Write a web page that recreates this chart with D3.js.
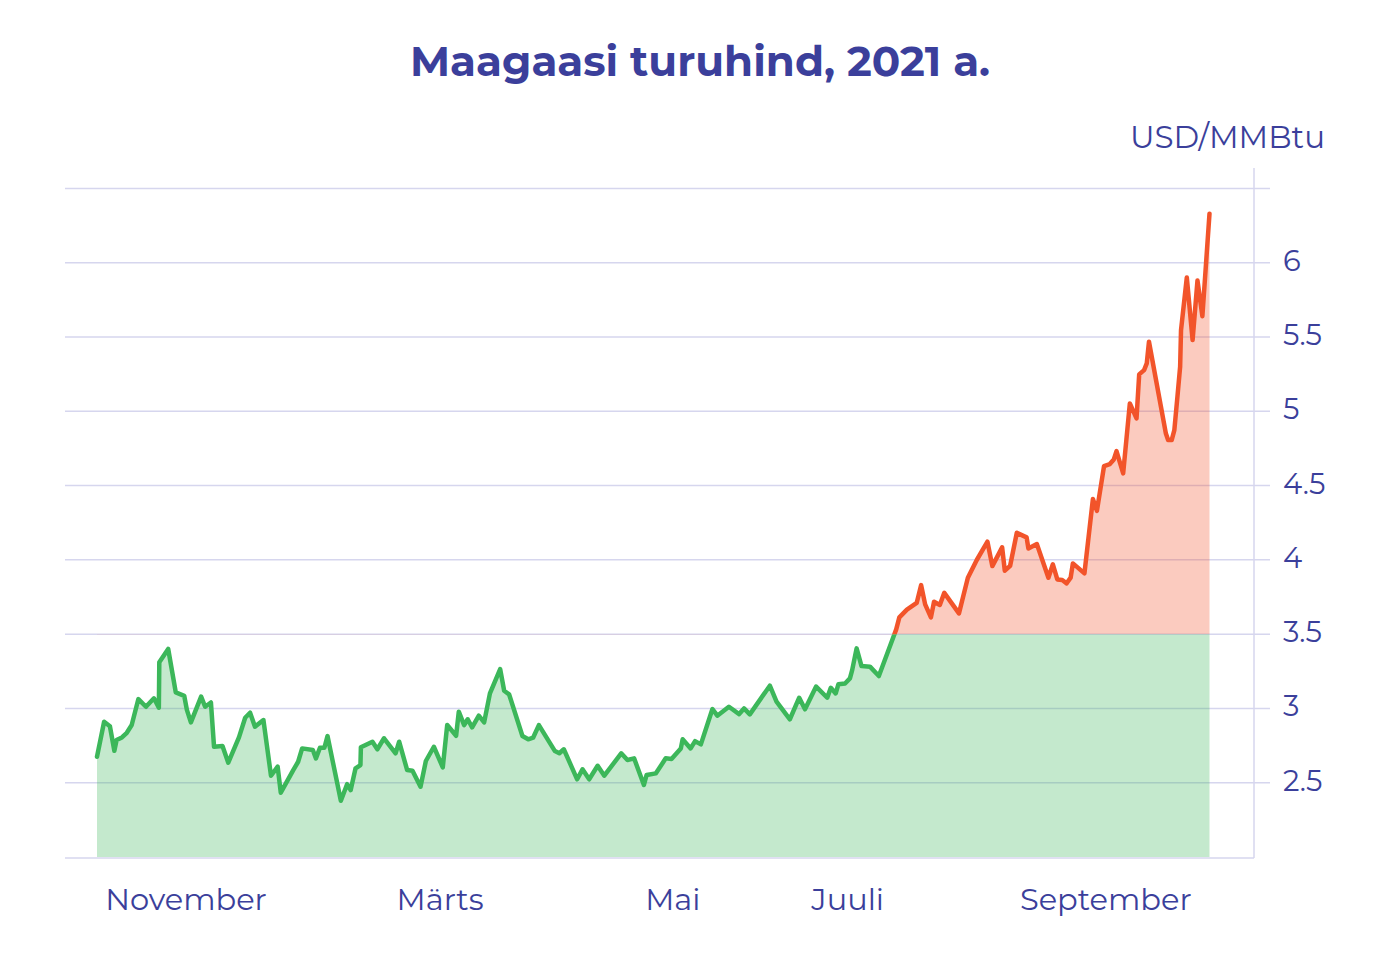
<!DOCTYPE html>
<html>
<head>
<meta charset="utf-8">
<script src="https://cdn.jsdelivr.net/npm/d3@7"></script>
<style>
  html, body { margin: 0; padding: 0; background: #fff; }
  svg { display: block; font-family: Montserrat, Inter, "Noto Sans", sans-serif; }
</style>
</head>
<body>
<div id="chart"></div>
<script>
// trading-day index (0 = start of series) and price, USD/MMBtu
const days = [
  0, 1.6, 2.9, 3.9, 4.4, 5.6, 6.7, 7.8, 9.3, 11, 12.8, 13.9, 14.0, 16, 17.7, 19.6, 20.2, 21.1, 23.4, 24.3,
  25.6, 26.3, 28.2, 29.5, 31.9, 33.3, 34.4, 35.5, 37.4, 39.1, 40.6, 41.3, 44.1, 45.2, 46.1, 48.5, 49.2, 50.1, 51.1, 51.8,
  54.8, 56.2, 57, 58.1, 59.2, 59.3, 61.9, 63, 64.5, 67.1, 67.9, 69.7, 70.9, 72.7, 73.9, 75.7, 77.7, 78.7, 80.7, 81.3,
  82.5, 83.3, 84.3, 85.8, 87, 88.3, 90.6, 91.5, 92.6, 95.6, 96.9, 98, 99.3, 102.9, 103.9, 104.9, 107.9, 109.1, 110.6, 112.5,
  114, 117.8, 119.2, 120.7, 122.9, 123.5, 125.6, 127.8, 129.1, 131.2, 131.6, 133.4, 134.4, 135.7, 138.3, 139.4, 142, 144.3, 145.4, 146.7,
  151.2, 152.7, 155.7, 157.8, 159.1, 161.6, 164.1, 164.9, 166, 166.6, 168.1, 169.2, 169.7, 170.7, 171.8, 173.7, 175.7, 179.6, 180.3, 182,
  184.2, 185.2, 186.1, 187.4, 188.1, 189.4, 190.4, 193.7, 195.7, 197.7, 200.1, 201.2, 203.4, 204, 205.2, 206.7, 208.9, 209.3, 211.2, 213.8,
  214.8, 215.8, 216.9, 217.9, 218.8, 219.3, 221.9, 223.8, 224.7, 226.3, 227.6, 228.5, 229.1, 230.6, 232.1, 233.6, 234.2, 235.3, 235.9, 236.4,
  240.2, 240.7, 241.5, 242.1, 242.8, 243.4, 243.6, 244.9, 246.2, 247.3, 248.4, 250
];
const prices = [
  2.675, 2.91, 2.88, 2.715, 2.787, 2.805, 2.836, 2.888, 3.063, 3.011, 3.068, 3.005, 3.31, 3.40, 3.108, 3.085, 2.99, 2.906, 3.079, 3.011,
  3.04, 2.742, 2.747, 2.635, 2.805, 2.937, 2.971, 2.877, 2.922, 2.547, 2.608, 2.433, 2.585, 2.641, 2.731, 2.72, 2.664, 2.735, 2.735, 2.814,
  2.379, 2.49, 2.45, 2.597, 2.619, 2.738, 2.776, 2.725, 2.799, 2.698, 2.776, 2.585, 2.58, 2.473, 2.646, 2.742, 2.603, 2.888, 2.816, 2.978,
  2.888, 2.927, 2.873, 2.951, 2.906, 3.101, 3.265, 3.119, 3.095, 2.814, 2.792, 2.803, 2.888, 2.713, 2.698, 2.725, 2.523, 2.59, 2.523, 2.614,
  2.547, 2.698, 2.653, 2.664, 2.485, 2.552, 2.563, 2.664, 2.66, 2.731, 2.792, 2.731, 2.78, 2.758, 2.996, 2.951, 3.011, 2.962, 3.0, 2.96,
  3.153, 3.045, 2.927, 3.072, 2.994, 3.147, 3.072, 3.139, 3.101, 3.162, 3.168, 3.202, 3.258, 3.404, 3.285, 3.281, 3.218, 3.532, 3.613, 3.665,
  3.71, 3.83, 3.70, 3.613, 3.718, 3.696, 3.778, 3.64, 3.88, 3.999, 4.122, 3.958, 4.084, 3.927, 3.96, 4.182, 4.151, 4.077, 4.106, 3.88,
  3.97, 3.868, 3.864, 3.842, 3.88, 3.976, 3.909, 4.41, 4.33, 4.631, 4.645, 4.676, 4.732, 4.582, 5.053, 4.952, 5.248, 5.277, 5.322, 5.468,
  4.85, 4.806, 4.806, 4.873, 5.1, 5.3, 5.546, 5.9, 5.479, 5.88, 5.64, 6.33
];
const yTicks = [2.5, 3, 3.5, 4, 4.5, 5, 5.5, 6];
const gridValues = [2.5, 3, 3.5, 4, 4.5, 5, 5.5, 6, 6.5];
const monthLabels = ['November', 'Märts', 'Mai', 'Juuli', 'September'];
const monthDays = [20, 77.1, 129.4, 168.7, 226.7];
const threshold = 3.5;

const W = 1400, H = 958;
const ink = '#3b3f9b';
const gridColor = '#d6d6ee';
const green = '#3cb75a', red = '#f2542a';

const data = days.map((d, i) => ({ d, v: prices[i] }));

const x = d3.scaleLinear().domain([0, 250]).range([97, 1209.5]);
const y = d3.scaleLinear().domain([2, 6.5]).range([857, 188.4]);

const svg = d3.select('#chart').append('svg').attr('width', W).attr('height', H);

svg.append('text').attr('x', 700).attr('y', 76).attr('text-anchor', 'middle')
  .attr('fill', ink).attr('font-size', 42).attr('font-weight', 700).text('Maagaasi turuhind, 2021 a.');

svg.append('text').attr('x', 1325).attr('y', 148).attr('text-anchor', 'end')
  .attr('fill', ink).attr('font-size', 31).text('USD/MMBtu');

// grid
svg.append('g').selectAll('line').data(gridValues).join('line')
  .attr('x1', 65).attr('x2', 1270).attr('y1', d => y(d)).attr('y2', d => y(d))
  .attr('stroke', gridColor).attr('stroke-width', 1.5);

// axes frame
svg.append('line').attr('x1', 65).attr('x2', 1254).attr('y1', 858).attr('y2', 858)
  .attr('stroke', gridColor).attr('stroke-width', 1.5);
svg.append('line').attr('x1', 1254).attr('x2', 1254).attr('y1', 168).attr('y2', 858)
  .attr('stroke', gridColor).attr('stroke-width', 1.5);

svg.append('g').selectAll('text').data(yTicks).join('text')
  .attr('x', 1283).attr('y', d => y(d) + 8).attr('fill', ink).attr('font-size', 29)
  .text(d => d);

svg.append('g').selectAll('text').data(monthLabels).join('text')
  .attr('x', (d, i) => x(monthDays[i])).attr('y', 910).attr('text-anchor', 'middle')
  .attr('fill', ink).attr('font-size', 30.5).text(d => d);

// clips above/below the threshold
const defs = svg.append('defs');
defs.append('clipPath').attr('id', 'below').append('rect')
  .attr('x', 0).attr('y', y(threshold)).attr('width', W).attr('height', H - y(threshold));
defs.append('clipPath').attr('id', 'above').append('rect')
  .attr('x', 0).attr('y', 0).attr('width', W).attr('height', y(threshold));

const areaLow = d3.area().x(d => x(d.d)).y0(y(2)).y1(d => y(d.v));
const areaHigh = d3.area().x(d => x(d.d)).y0(y(threshold)).y1(d => y(d.v));
const line = d3.line().x(d => x(d.d)).y(d => y(d.v));

svg.append('path').datum(data).attr('d', areaLow).attr('clip-path', 'url(#below)')
  .attr('fill', green).attr('fill-opacity', 0.3);
svg.append('path').datum(data).attr('d', areaHigh).attr('clip-path', 'url(#above)')
  .attr('fill', red).attr('fill-opacity', 0.3);

svg.append('path').datum(data).attr('d', line).attr('clip-path', 'url(#below)')
  .attr('fill', 'none').attr('stroke', green).attr('stroke-width', 4.5)
  .attr('stroke-linejoin', 'round').attr('stroke-linecap', 'round');
svg.append('path').datum(data).attr('d', line).attr('clip-path', 'url(#above)')
  .attr('fill', 'none').attr('stroke', red).attr('stroke-width', 4.5)
  .attr('stroke-linejoin', 'round').attr('stroke-linecap', 'round');
</script>
</body>
</html>
